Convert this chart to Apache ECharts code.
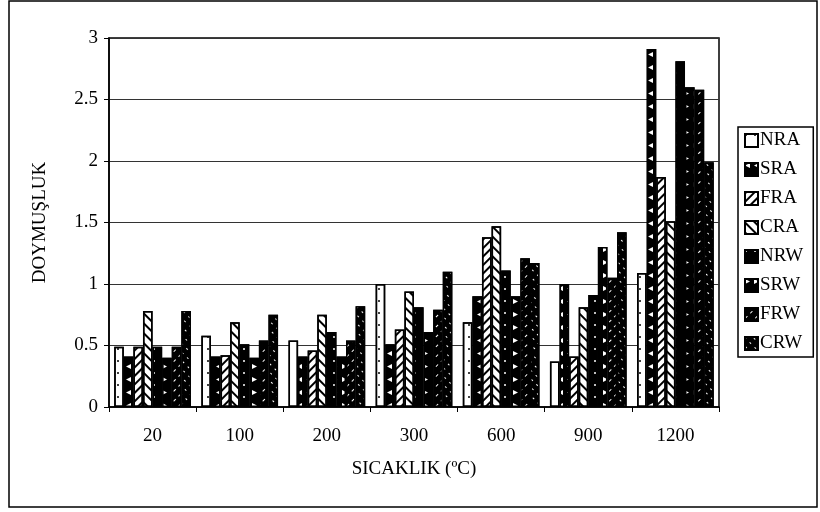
<!DOCTYPE html>
<html>
<head>
<meta charset="utf-8">
<script src="https://cdn.jsdelivr.net/npm/echarts@6/dist/echarts.min.js"></script>
<style>
  html, body { margin: 0; padding: 0; background: #fff; }
  #chart { width: 820px; height: 512px; }
</style>
</head>
<body>
<div id="chart"></div>
<script>
// Temperatures (°C) on the x axis
const categories = ['20', '100', '200', '300', '600', '900', '1200'];

// Saturation values per sample type
const NRA = [0.49, 0.58, 0.54, 1.00, 0.69, 0.37, 1.09];
const SRA = [0.41, 0.41, 0.41, 0.51, 0.90, 1.00, 2.91];
const FRA = [0.49, 0.42, 0.46, 0.63, 1.38, 0.41, 1.87];
const CRA = [0.78, 0.69, 0.75, 0.94, 1.47, 0.81, 1.51];
const NRW = [0.49, 0.51, 0.61, 0.81, 1.11, 0.91, 2.81];
const SRW = [0.40, 0.40, 0.41, 0.61, 0.90, 1.30, 2.60];
const FRW = [0.49, 0.54, 0.54, 0.79, 1.21, 1.05, 2.58];
const CRW = [0.78, 0.75, 0.82, 1.10, 1.17, 1.42, 1.99];

const yTicks = { min: 0, max: 3, interval: 0.5 };

const serif = 'Liberation Serif';

// Fill patterns for the monochrome bars
const patterns = {
  NRA: { fill: '#fff', decal: { symbol: 'circle', symbolSize: 1, color: '#000', dashArrayX: [2, 7], dashArrayY: [2, 10] } },
  SRA: { fill: '#000', decal: { symbol: 'path://M10,0 L0,5 L10,10 Z', symbolSize: 1, color: '#fff', dashArrayX: [5, 4], dashArrayY: [5, 8] } },
  FRA: { fill: '#fff', decal: { symbol: 'rect', symbolSize: 1, color: '#000', dashArrayX: [1, 0], dashArrayY: [2, 4], rotation: -Math.PI / 4 } },
  CRA: { fill: '#fff', decal: { symbol: 'rect', symbolSize: 1, color: '#000', dashArrayX: [1, 0], dashArrayY: [2, 5], rotation: Math.PI / 4 } },
  NRW: { fill: '#000', decal: { symbol: 'circle', symbolSize: 1, color: '#fff', dashArrayX: [2, 7], dashArrayY: [2, 10] } },
  SRW: { fill: '#000', decal: { symbol: 'path://M0,0 L10,5 L0,10 Z', symbolSize: 1, color: '#fff', dashArrayX: [5, 4], dashArrayY: [5, 8] } },
  FRW: { fill: '#000', decal: { symbol: 'rect', symbolSize: 1, color: '#fff', dashArrayX: [3, 4], dashArrayY: [1, 6], rotation: -Math.PI / 4 } },
  CRW: { fill: '#000', decal: { symbol: 'rect', symbolSize: 1, color: '#fff', dashArrayX: [2, 5], dashArrayY: [1, 5], rotation: Math.PI / 4 } }
};

const seriesData = { NRA, SRA, FRA, CRA, NRW, SRW, FRW, CRW };
const names = Object.keys(seriesData);

const chart = echarts.init(document.getElementById('chart'), null, { renderer: 'canvas' });

chart.setOption({
  backgroundColor: '#fff',
  animation: false,
  textStyle: { fontFamily: serif, color: '#000' },
  graphic: [{
    type: 'rect',
    shape: { x: 9, y: 1, width: 808, height: 506 },
    style: { fill: 'none', stroke: '#000', lineWidth: 1.5 },
    silent: true,
    z: -1
  }],
  grid: {
    left: 109, right: 101, top: 38, bottom: 105,
    show: true, borderColor: '#000', borderWidth: 1.5
  },
  legend: {
    orient: 'vertical',
    left: 738, top: 127,
    data: names,
    icon: 'rect',
    itemWidth: 13, itemHeight: 13,
    itemGap: 10,
    padding: [4, 10, 4, 6],
    borderColor: '#000', borderWidth: 1.5,
    textStyle: { fontFamily: serif, fontSize: 19, color: '#000', padding: [0, 0, 0, -3] }
  },
  xAxis: {
    type: 'category',
    data: categories,
    name: 'SICAKLIK (ºC)',
    nameLocation: 'middle',
    nameGap: 53,
    nameTextStyle: { fontFamily: serif, fontSize: 19, color: '#000' },
    axisLine: { lineStyle: { color: '#000', width: 1.5 } },
    axisTick: { show: true, alignWithLabel: false, length: 5, lineStyle: { color: '#000' } },
    axisLabel: { fontFamily: serif, fontSize: 19, color: '#000', margin: 20 }
  },
  yAxis: {
    type: 'value',
    min: yTicks.min, max: yTicks.max, interval: yTicks.interval,
    name: 'DOYMUŞLUK',
    nameLocation: 'middle',
    nameGap: 59,
    nameRotate: 90,
    nameTextStyle: { fontFamily: serif, fontSize: 19, color: '#000' },
    axisLine: { show: true, lineStyle: { color: '#000', width: 1.5 } },
    axisTick: { show: true, length: 5, lineStyle: { color: '#000' } },
    axisLabel: { fontFamily: serif, fontSize: 19, color: '#000', margin: 11 },
    splitLine: { lineStyle: { color: '#333', width: 1 } }
  },
  series: names.map((n) => ({
    name: n,
    type: 'bar',
    data: seriesData[n],
    barGap: '0%',
    barCategoryGap: '12%',
    itemStyle: {
      color: patterns[n].fill,
      borderColor: '#000',
      borderWidth: 1.5,
      decal: patterns[n].decal
    }
  }))
});
</script>
</body>
</html>
